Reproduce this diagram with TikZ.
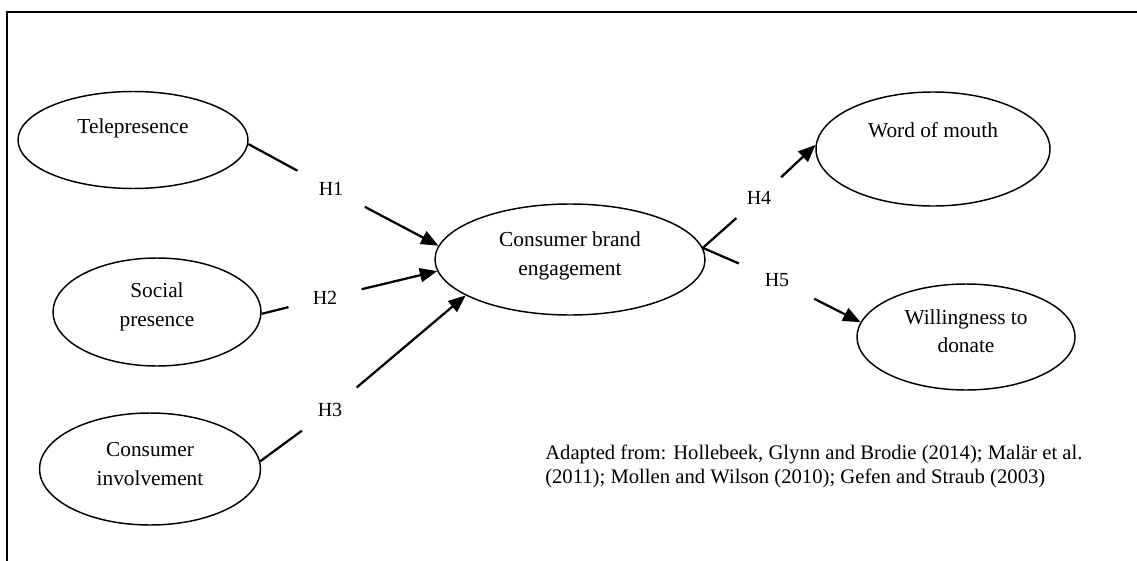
\documentclass[tikz,border=0pt]{standalone}
\usepackage{fontspec}
\setmainfont{Liberation Serif}
\usetikzlibrary{shapes.geometric,arrows.meta}
\tikzset{
  oval/.style={ellipse, draw, line width=1.1pt, inner sep=0pt},
  txt/.style={align=center, inner sep=0pt, font=\fontsize{16pt}{21.4pt}\selectfont},
  hlab/.style={circle, inner sep=0pt, font=\fontsize{15pt}{18pt}\selectfont},
  conn/.style={line width=1.7pt},
  arr/.style={-{Triangle[length=13pt,width=10.5pt]}},
  frame/.style={line width=1.2pt}
}
\begin{document}
\begin{tikzpicture}[x=0.75pt,y=-0.75pt]
\useasboundingbox (0,0) rectangle (1137,560);
\clip (0,0) rectangle (1137,560);
% frame
\coordinate (fbl) at (7,575);
\coordinate (ftl) at (7,12);
\coordinate (ftr) at (1150,12);
\draw[frame] (fbl) -- (ftl) -- (ftr);
% ellipses
\node[oval, minimum width=172.5pt, minimum height=72.75pt] (tele) at (133,140) {};
\node[oval, minimum width=156pt, minimum height=81pt] (social) at (157,312) {};
\node[oval, minimum width=165.75pt, minimum height=84pt] (invol) at (150,469) {};
\node[oval, minimum width=202.5pt, minimum height=83.25pt] (cbe) at (570,259.5) {};
\node[oval, minimum width=175.5pt, minimum height=85.5pt] (wom) at (933,149) {};
\node[oval, minimum width=163.5pt, minimum height=79.5pt] (will) at (966,337) {};
% texts
\node[txt] (telet) at (133,128) {Telepresence};
\node[txt] (socialt) at (157,307) {Social\\presence};
\node[txt] (involt) at (150,464) {Consumer\\involvement};
\node[txt] (cbet) at (570,256) {Consumer brand\\engagement};
\node[txt] (womt) at (933,130) {Word of mouth};
\node[txt] (willt) at (966,331) {Willingness to\\donate};
% hypothesis labels
\node[hlab, minimum size=57pt] (h1) at (331,189) {H1};
\node[hlab, minimum size=56pt] (h2) at (325,298) {H2};
\node[hlab, minimum size=52pt] (h3) at (330,410) {H3};
\node[hlab, minimum size=45pt] (h4) at (759,198) {H4};
\node[hlab, minimum size=62pt] (h5) at (777,280) {H5};
% connectors
\draw[conn] (tele.-2) -- (h1);
\draw[conn,arr] (h1) -- (cbe.174);
\draw[conn] (social.-1) -- (h2);
\draw[conn,arr] (h2) -- (cbe.185);
\draw[conn] (invol.4) -- (h3);
\draw[conn,arr] (h3) -- (cbe.199);
\draw[conn] (cbe.5) -- (h4);
\draw[conn,arr] (h4) -- (wom.178);
\draw[conn] (cbe.5) -- (h5);
\draw[conn,arr] (h5) -- (will.172);
% citation
\node[align=left, anchor=west, inner sep=0pt, font=\fontsize{15.5pt}{18pt}\selectfont] (cite) at (545,466)
  {Adapted from: Hollebeek, Glynn and Brodie (2014); Malär et al.\\(2011); Mollen and Wilson (2010); Gefen and Straub (2003)};
\end{tikzpicture}
\end{document}
